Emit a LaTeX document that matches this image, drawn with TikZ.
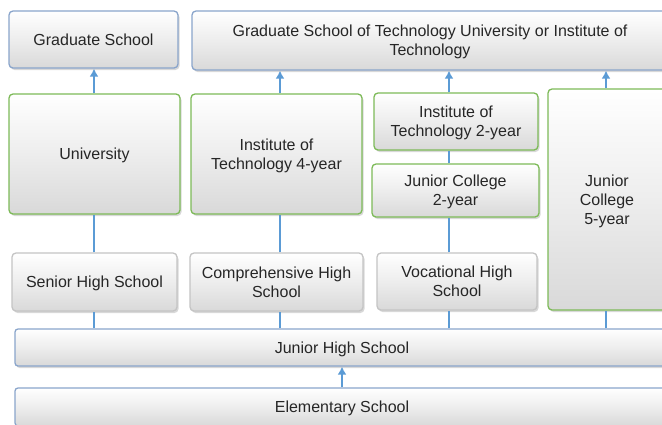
\documentclass[tikz,border=0pt]{standalone}
\usepackage{fontspec}
\setmainfont{Liberation Sans}
\usepackage{tikz}
\usetikzlibrary{positioning, arrows.meta, shadows}
\definecolor{edgeblue}{HTML}{8AA5CB}
\definecolor{edgegreen}{HTML}{7DBA58}
\definecolor{edgegray}{HTML}{C4C4C4}
\definecolor{flow}{HTML}{5B9BD5}
\definecolor{txt}{HTML}{262626}
\tikzset{
  box/.style     = {rectangle, rounded corners=4pt, line width=1.3pt,
                    top color=white, bottom color=black!15, middle color=black!7,
                    drop shadow={opacity=0.3, shadow xshift=1.5pt, shadow yshift=-2pt},
                    align=center, text=txt, inner sep=2pt, text depth=0pt,
                    font=\fontsize{16}{19}\selectfont},
  grad/.style    = {box, draw=edgeblue},
  higher/.style  = {box, draw=edgegreen},
  high/.style    = {box, draw=edgegray},
  base/.style    = {box, draw=edgeblue, rounded corners=3pt},
  link/.style    = {draw=flow, line width=2.8pt},
  arr/.style     = {-{Latex[length=8pt,width=9pt]}, draw=flow, line width=2.8pt},
}

\begin{document}
\begin{tikzpicture}[x=1pt, y=-1pt]
  \clip (0,0) rectangle (662,424);
  \fill[white] (0,0) rectangle (662,424);

  % columns
  \coordinate (c1) at (94,0);
  \coordinate (c2) at (280,0);
  \coordinate (c3) at (449,0);
  \coordinate (c4) at (606,0);

  % graduate level
  \node[grad, minimum width=169pt, minimum height=57pt] (gs) at (93.5,39.5) {Graduate School};
  \node[grad, minimum width=476pt, minimum height=59pt] (gst) at (430,40.5)
       {Graduate School of Technology University or Institute of\\Technology};

  % higher education
  \node[higher, minimum width=171pt, minimum height=120pt] (univ) at (94.5,154) {University};
  \node[higher, minimum width=171pt, minimum height=120pt] (it4) at (276.5,154)
       {Institute of\\Technology 4-year};
  \node[higher, minimum width=164pt, minimum height=57pt] (it2) at (456,121.5)
       {Institute of\\Technology 2-year};
  \node[higher, minimum width=167pt, minimum height=53pt] (jc2) at (455.5,190.5)
       {Junior College\\2-year};
  \node[higher, minimum width=118pt, minimum height=221pt] (jc5) at (607,199.5)
       {Junior\\College\\5-year};

  % high schools
  \node[high, minimum width=165pt, minimum height=58pt] (shs) at (94.5,282) {Senior High School};
  \node[high, minimum width=173pt, minimum height=58pt] (chs) at (276.5,282)
       {Comprehensive High\\School};
  \node[high, minimum width=160pt, minimum height=57pt] (vhs) at (457,281.5)
       {Vocational High\\School};

  % compulsory
  \node[base, minimum width=654pt, minimum height=37pt] (jhs) at (342,347.5) {Junior High School};
  \node[base, minimum width=654pt, minimum height=38pt] (es) at (342,407) {Elementary School};

  % connectors
  \draw[arr] (es.north) -- (jhs.south);
  \draw[link] (jhs.north -| c1) -- (shs.south -| c1);
  \draw[link] (jhs.north -| c2) -- (chs.south -| c2);
  \draw[link] (jhs.north -| c3) -- (vhs.south -| c3);
  \draw[link] (jhs.north -| c4) -- (jc5.south -| c4);
  \draw[link] (shs.north -| c1) -- (univ.south -| c1);
  \draw[link] (chs.north -| c2) -- (it4.south -| c2);
  \draw[link] (vhs.north -| c3) -- (jc2.south -| c3);
  \draw[link] (jc2.north -| c3) -- (it2.south -| c3);
  \draw[arr] (univ.north -| c1) -- (gs.south -| c1);
  \draw[arr] (it4.north -| c2) -- (gst.south -| c2);
  \draw[arr] (it2.north -| c3) -- (gst.south -| c3);
  \draw[arr] (jc5.north -| c4) -- (gst.south -| c4);
\end{tikzpicture}
\end{document}
